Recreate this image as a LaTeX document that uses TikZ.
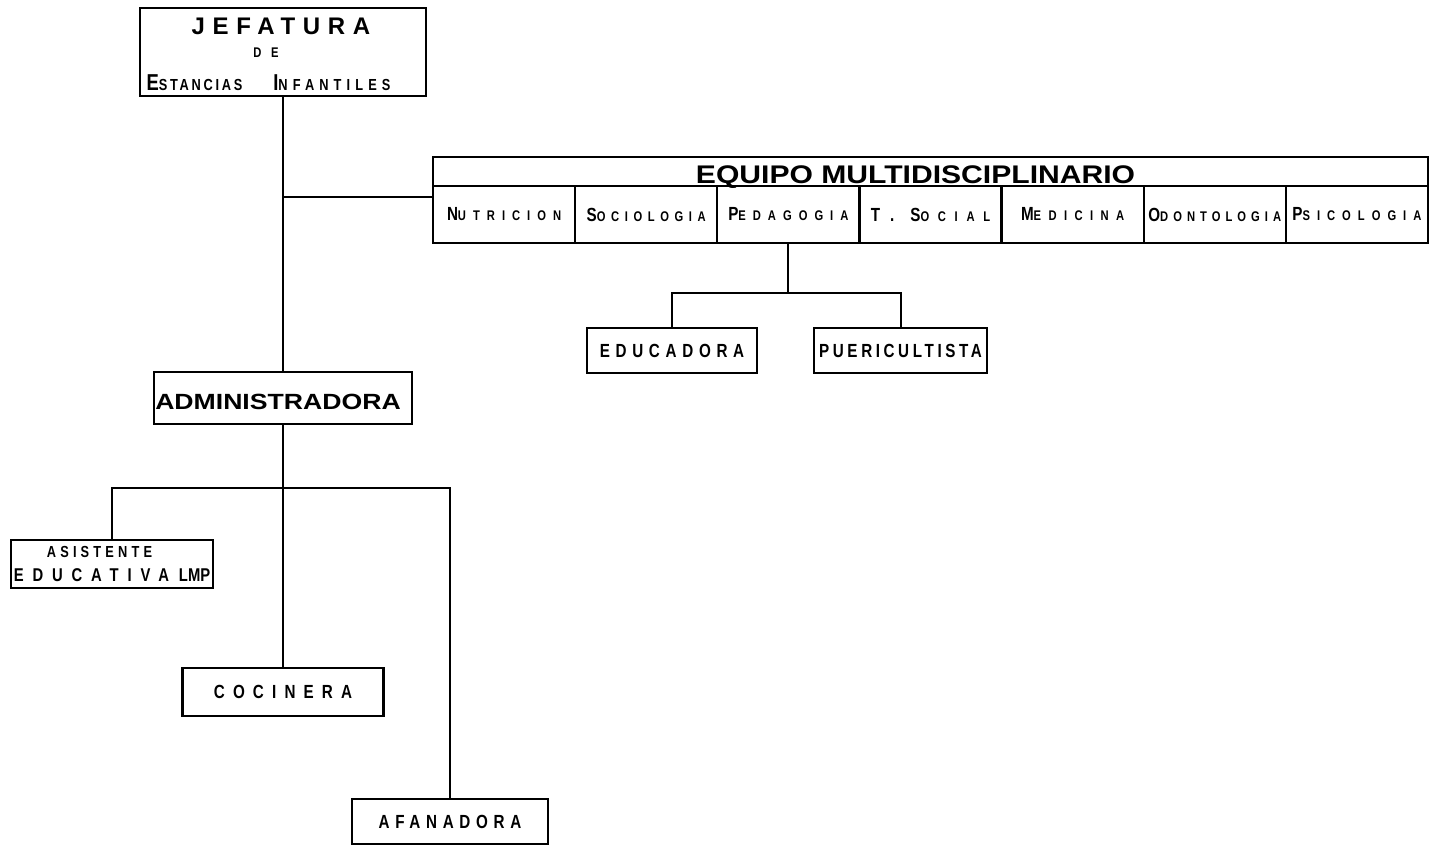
\documentclass[tikz,border=0pt]{standalone}
\usepackage{fontspec}
\setmainfont{Liberation Sans}
\newfontfamily\wfont[FakeStretch=0.8]{Liberation Sans}
\newfontfamily\xfont[FakeStretch=1.18]{Liberation Sans}
\newfontfamily\afont[FakeStretch=1.21]{Liberation Sans}
\usetikzlibrary{positioning}
\newcommand\hcap{\fontsize{19}{19}\selectfont}
\newcommand\lcap{\fontsize{14}{14}\selectfont}
\newcommand\trk[1]{\addfontfeature{LetterSpace=#1}}

\begin{document}
\begin{tikzpicture}[x=1pt, y=-1pt,
  box/.style={draw, line width=2.2pt, outer sep=0pt, inner sep=0pt, align=center},
  unit/.style={box, font=\wfont\bfseries\fontsize{19}{19}\selectfont\trk{#1}},
  cell/.style={box, minimum width=142.14pt, minimum height=57pt, font=\wfont\bfseries\trk{#1}},
  cell/.default=50,
  ln/.style={line width=2pt}]
\useasboundingbox (0,0) rectangle (1429,845);
\node[box, minimum width=286pt, minimum height=88pt] (jef) at (283,52) {};
\node[anchor=base, font=\bfseries\fontsize{24}{24}\selectfont\trk{32}] (jefa) at (281,35) {JEFATURA};
\node[anchor=base, font=\wfont\bfseries\fontsize{14}{14}\selectfont\trk{46}] (jefb) at (266,58) {D E};
\node[anchor=base, font=\wfont\bfseries] (jefc) at (268.5,91) {{\trk{17}\fontsize{23}{23}\selectfont E\fontsize{16}{16}\selectfont STANCIAS}\hspace{31pt}{\trk{32}\fontsize{23}{23}\selectfont I\fontsize{16}{16}\selectfont NFANTILES}};
\node[box, minimum width=995pt, minimum height=29pt, text height=25pt, text depth=0pt, font=\xfont\bfseries\fontsize{25.5}{25.5}\selectfont] (eq) at (930.5,171.5) {EQUIPO MULTIDISCIPLINARIO\hspace*{30pt}};
\node[cell, anchor=north west] (nut) at (eq.south west) {{\hcap N}{\lcap UTRICION}};
\node[cell=40, right=0pt of nut] (soc) {{\hcap S}{\lcap OCIOLOGIA}};
\node[cell, right=0pt of soc] (ped) {{\hcap P}{\lcap EDAGOGIA}};
\node[cell=62, right=0pt of ped] (tso) {{\hcap T. S}{\lcap OCIAL}};
\node[cell=53, right=0pt of tso] (med) {{\hcap M}{\lcap EDICINA}};
\node[cell=36, right=0pt of med] (odo) {{\hcap O}{\lcap DONTOLOGIA}};
\node[cell, right=0pt of odo] (psi) {{\hcap P}{\lcap SICOLOGIA}};
\node[unit=30, minimum width=170pt, minimum height=45pt] (edu) at (672,350.5) {EDUCADORA};
\node[unit=19, minimum width=173pt, minimum height=45pt] (pue) at (900.5,350.5) {PUERICULTISTA};
\node[box, minimum width=258pt, minimum height=52pt, text height=23.7pt, text depth=0pt, font=\afont\bfseries\fontsize{22}{22}\selectfont] (adm) at (283,398) {ADMINISTRADORA\hspace*{10pt}};
\node[box, minimum width=202pt, minimum height=48pt, font=\wfont\bfseries\fontsize{16}{23.4}\selectfont] (asi) at (112,564) {{\trk{26}ASISTENTE}\hspace*{25pt}\\{\trk{48}\fontsize{18.5}{18.5}\selectfont EDUCATIVA}\hspace{10pt}{\fontsize{18.5}{18.5}\selectfont LMP}};
\node[unit=43, minimum width=201pt, minimum height=48pt] (coc) at (283,692) {COCINERA};
\node[unit=30, minimum width=196pt, minimum height=45pt] (afa) at (450,821.5) {AFANADORA};
\coordinate (j1) at (283,197);
\coordinate (p1) at (786,293);
\coordinate (a1) at (283,488);
\draw[ln] (jef) -- (adm);
\draw[ln] (j1) -- (j1 -| nut.west);
\draw[ln] (ped) -- (ped |- p1);
\draw[ln] (edu.north) |- (p1) -| (pue.north);
\draw[ln] (adm) -- (coc);
\draw[ln] (asi.north) |- (a1) -| (afa.north);
\end{tikzpicture}
\end{document}
